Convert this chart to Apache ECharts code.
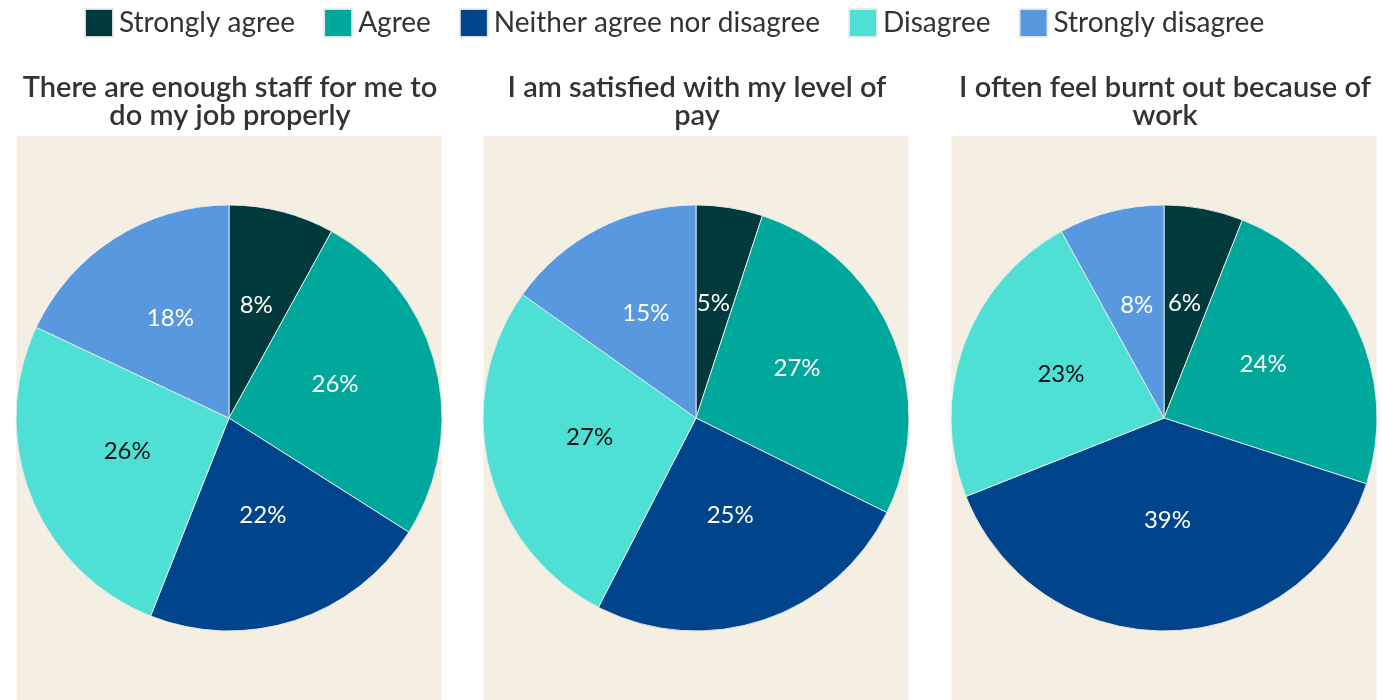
<!DOCTYPE html>
<html>
<head>
<meta charset="utf-8">
<script src="https://cdn.jsdelivr.net/npm/echarts@6/dist/echarts.min.js"></script>
<style>
  html, body { margin: 0; padding: 0; background: #ffffff; }
  #chart { width: 1382px; height: 700px; }
</style>
</head>
<body>
<div id="chart"></div>
<script>
// Response categories (legend order)
const categories = ['Strongly agree', 'Agree', 'Neither agree nor disagree', 'Disagree', 'Strongly disagree'];

// Survey questions, one pie each
const questions = [
  'There are enough staff for me to\ndo my job properly',
  'I am satisfied with my level of\npay',
  'I often feel burnt out because of\nwork'
];

// Percentage of respondents per category, per question
const staffValues   = [8, 26, 22, 26, 18];
const payValues     = [5, 27, 25, 27, 15];
const burnoutValues = [6, 24, 39, 23, 8];

const seriesValues = [staffValues, payValues, burnoutValues];

const colors = ['#003a3d', '#00a79b', '#00458b', '#4ee0d4', '#5898df'];
const labelColors = ['#ffffff', '#ffffff', '#ffffff', '#111111', '#ffffff'];

// Panel layout
const panelCenters = [229, 696, 1164];
const panelWidth = 425;
const panelTop = 136;
const pieCenterY = 418;
const pieRadius = 213;

const chart = echarts.init(document.getElementById('chart'), null, { renderer: 'canvas' });

const fontFamily = 'Lato, "Noto Sans", sans-serif';

const option = {
  animation: false,
  color: colors,
  legend: {
    data: categories,
    top: 3,
    left: 79,
    itemWidth: 28,
    itemHeight: 28,
    itemGap: 28,
    icon: 'rect',
    textStyle: { fontFamily, fontSize: 28, color: '#333333', padding: [0, 0, 0, 1] }
  },
  title: questions.map((q, i) => ({
    text: q,
    left: panelCenters[i] - 4,
    top: 69,
    textAlign: 'center',
    textStyle: { fontFamily, fontSize: 29, fontWeight: 600, color: '#333333', lineHeight: 28 }
  })),
  graphic: panelCenters.map(cx => ({
    type: 'rect',
    silent: true,
    z: -10,
    shape: { x: cx - panelWidth / 2, y: panelTop, width: panelWidth, height: 700 - panelTop },
    style: { fill: '#f5eee3' }
  })),
  series: seriesValues.map((vals, i) => ({
    type: 'pie',
    center: [panelCenters[i], pieCenterY],
    radius: [0, pieRadius],
    startAngle: 90,
    clockwise: true,
    avoidLabelOverlap: false,
    itemStyle: { borderColor: 'rgba(235,235,235,0.9)', borderWidth: 1 },
    label: {
      show: true,
      position: 'inner',
      fontFamily,
      fontSize: 24,
      offset: [0, -7],
      formatter: p => p.value + '%'
    },
    labelLine: { show: false },
    emphasis: { disabled: true },
    data: vals.map((v, k) => ({
      name: categories[k],
      value: v,
      label: { color: labelColors[k] }
    }))
  }))
};

chart.setOption(option);
</script>
</body>
</html>
